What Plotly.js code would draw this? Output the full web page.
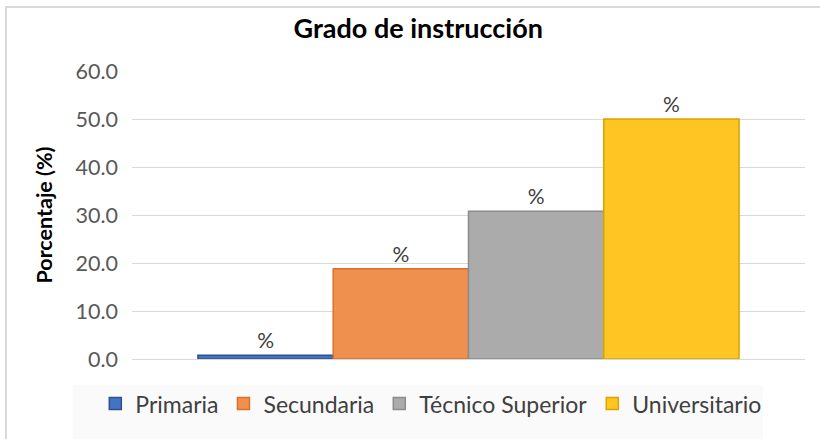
<!DOCTYPE html>
<html>
<head>
<meta charset="utf-8">
<script src="https://cdn.plot.ly/plotly-3.0.1.min.js"></script>
<style>
  html, body { margin: 0; padding: 0; background: #ffffff; }
  #wrap { position: relative; width: 820px; height: 439px; overflow: hidden; }
  #chart { width: 820px; height: 439px; }
  #frame { position: absolute; left: 5px; top: 6px; width: 900px; height: 500px;
           border-left: 2px solid #d9d9d9; border-top: 2px solid #d9d9d9; pointer-events: none; }
</style>
</head>
<body>
<div id="wrap">
  <div id="chart"></div>
  <div id="frame"></div>
</div>
<script>
const categories = ["Primaria", "Secundaria", "Técnico Superior", "Universitario"];
const values = [0.8, 18.8, 30.8, 50.0];
const labels = ["%", "%", "%", "%"];
const yTicks = [0, 10, 20, 30, 40, 50, 60];
const yTickText = ["0.0", "10.0", "20.0", "30.0", "40.0", "50.0", "60.0"];
const fillColors = ["#4472C4", "#F0904E", "#ABABAB", "#FFC522"];
const lineColors = ["#2F528F", "#D9712A", "#8C8C8C", "#D9A400"];

const FONT = "Lato, 'Open Sans', sans-serif";

const traces = categories.map((c, i) => ({
  type: "bar",
  name: c,
  x: [""],
  y: [values[i]],
  text: [labels[i]],
  textposition: "outside",
  cliponaxis: false,
  textfont: { family: FONT, size: 21, color: "#404040" },
  marker: { color: fillColors[i], line: { color: lineColors[i], width: 1.5 } },
  hoverinfo: "skip"
}));

const layout = {
  width: 820,
  height: 439,
  margin: { l: 132, r: 15, t: 71, b: 80 },
  paper_bgcolor: "rgba(0,0,0,0)",
  plot_bgcolor: "rgba(0,0,0,0)",
  title: {
    text: "<b>Grado de instrucción</b>",
    font: { family: FONT, size: 27, color: "#000000" },
    x: 0.51, xanchor: "center", y: 0.935, yanchor: "middle"
  },
  barmode: "group",
  bargap: 0.196,
  bargroupgap: 0,
  showlegend: true,
  legend: {
    orientation: "h",
    x: 0.444, xanchor: "center",
    y: -0.155, yanchor: "middle",
    font: { family: FONT, size: 23, color: "#404040" },
    bgcolor: "rgba(0,0,0,0)",
    itemwidth: 30,
    traceorder: "normal"
  },
  xaxis: {
    showticklabels: false,
    showgrid: false,
    zeroline: false,
    showline: false,
    fixedrange: true
  },
  yaxis: {
    range: [0, 60],
    tickvals: yTicks,
    ticktext: yTickText,
    tickfont: { family: FONT, size: 21.5, color: "#595959" },
    showgrid: true,
    gridcolor: "#d9d9d9",
    gridwidth: 1,
    zeroline: true,
    zerolinecolor: "#d9d9d9",
    zerolinewidth: 1,
    showline: false,
    ticks: "",
    ticklabelstandoff: 13,
    title: {
      text: "<b>Porcentaje (%)</b>",
      font: { family: FONT, size: 21.5, color: "#000000" },
      standoff: 16
    },
    fixedrange: true
  },
  shapes: [
    {
      type: "rect", xref: "paper", yref: "paper", layer: "below",
      x0: -0.088, x1: 0.9376, y0: -0.09, y1: -0.30,
      fillcolor: "#fafafa", line: { width: 0 }
    }
  ]
};

Plotly.newPlot("chart", traces, layout, { displayModeBar: false, staticPlot: true });
</script>
</body>
</html>
